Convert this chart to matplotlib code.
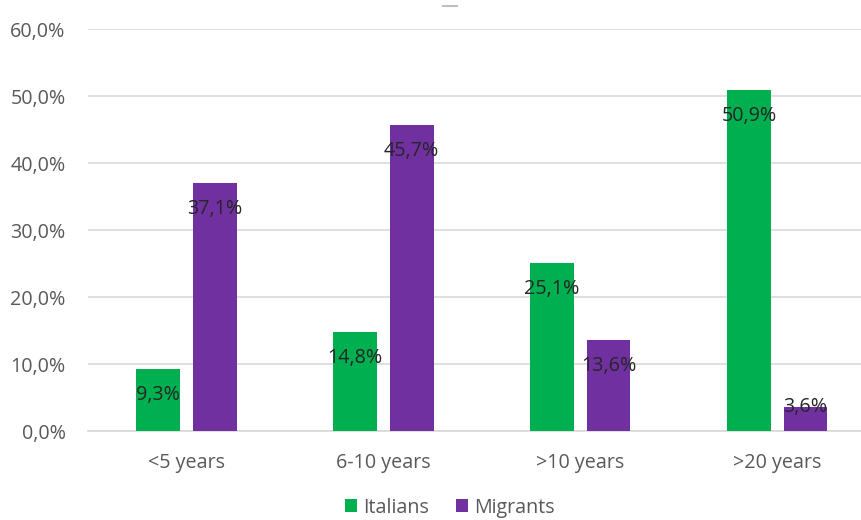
import matplotlib
matplotlib.use("Agg")
import matplotlib.pyplot as plt
from matplotlib.lines import Line2D
import numpy as np

categories = ["<5 years", "6-10 years", ">10 years", ">20 years"]
italians = [9.3, 14.8, 25.1, 50.9]
migrants = [37.1, 45.7, 13.6, 3.6]
series_names = ["Italians", "Migrants"]
colors = ["#00B050", "#7030A0"]

plt.rcParams["font.family"] = ["Open Sans", "DejaVu Sans"]
FS = 14.2

fig = plt.figure(figsize=(8.62, 5.2), dpi=100)
ax = fig.add_axes([0.102, 0.171, 0.914, 0.773])

x = np.arange(len(categories))
w = 0.223
off = 0.143
for vals, name, col, d in zip([italians, migrants], series_names, colors, [-off, off]):
    bars = ax.bar(x + d, vals, width=w, color=col, label=name, zorder=3)
    for b, v in zip(bars, vals):
        # label sits just inside the bar end, moved up for short bars
        shift = max(0.0, min(3.9, v - 3.6))
        ax.text(b.get_x() + b.get_width() / 2, v - shift,
                f"{v:.1f}%".replace(".", ","), ha="center", va="center",
                fontsize=FS, color="#262626", zorder=4)

ax.set_xlim(-0.5, 3.5)
ax.set_ylim(0, 60)
ax.set_yticks(np.arange(0, 61, 10))
ax.set_yticklabels([f"{t:.1f}%".replace(".", ",") for t in np.arange(0, 61, 10)])
ax.set_xticks(x)
ax.set_xticklabels(categories)
ax.tick_params(axis="both", length=0, labelsize=FS, labelcolor="#595959")
ax.tick_params(axis="y", pad=16)
ax.tick_params(axis="x", pad=15.5)
ax.grid(axis="y", color="#D9D9D9", linewidth=1.2, zorder=0)
for s in ["top", "right", "left"]:
    ax.spines[s].set_visible(False)
ax.spines["bottom"].set_color("#D9D9D9")
ax.spines["bottom"].set_linewidth(1.2)

leg = fig.legend(loc="center", bbox_to_anchor=(0.522, 0.024), ncol=2, frameon=False,
                 fontsize=FS, handlelength=0.6, handleheight=0.6, handletextpad=0.3,
                 columnspacing=1.4, borderpad=0.2)
for t in leg.get_texts():
    t.set_color("#595959")

# empty title placeholder
fig.add_artist(Line2D([0.514, 0.53], [0.988, 0.988], color="#BFBFBF", linewidth=1.5,
                      transform=fig.transFigure))

fig.savefig("out.png", dpi=100)
